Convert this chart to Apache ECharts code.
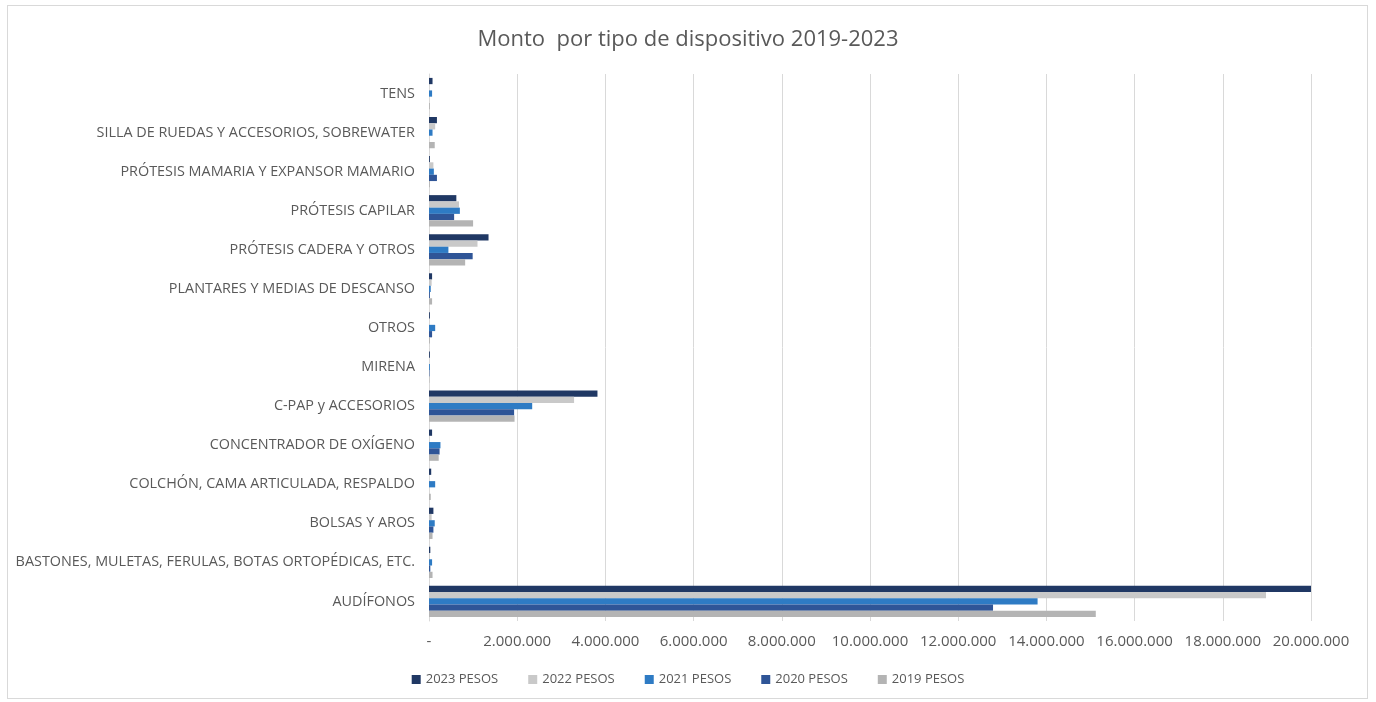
<!DOCTYPE html>
<html><head><meta charset="utf-8">
<script src="https://cdn.jsdelivr.net/npm/echarts@6/dist/echarts.min.js"></script>
<style>
html,body{margin:0;padding:0;background:#fff;}
#frame{position:absolute;left:7px;top:5px;width:1361px;height:694px;border:1px solid #d9d9d9;box-sizing:border-box;}
#c{position:absolute;left:0;top:0;width:1376px;height:702px;}
</style></head>
<body><div id="frame"></div><div id="c"></div>
<script>
const categories = ["AUDÍFONOS","BASTONES, MULETAS, FERULAS, BOTAS ORTOPÉDICAS, ETC.","BOLSAS Y AROS","COLCHÓN, CAMA ARTICULADA, RESPALDO","CONCENTRADOR DE OXÍGENO","C-PAP y ACCESORIOS","MIRENA","OTROS","PLANTARES Y MEDIAS DE DESCANSO","PRÓTESIS CADERA Y OTROS","PRÓTESIS CAPILAR","PRÓTESIS MAMARIA Y EXPANSOR MAMARIO","SILLA DE RUEDAS Y ACCESORIOS, SOBREWATER","TENS"];
const pesos2023 = [20000000, 30000, 100000, 50000, 70000, 3820000, 20000, 20000, 70000, 1350000, 620000, 20000, 180000, 80000];
const pesos2022 = [18980000, 20000, 60000, 0, 10000, 3290000, 0, 0, 60000, 1100000, 680000, 100000, 140000, 0];
const pesos2021 = [13800000, 70000, 130000, 140000, 260000, 2340000, 20000, 140000, 40000, 440000, 700000, 110000, 80000, 70000];
const pesos2020 = [12790000, 30000, 100000, 0, 240000, 1930000, 10000, 70000, 20000, 990000, 570000, 180000, 0, 0];
const pesos2019 = [15120000, 80000, 80000, 40000, 220000, 1940000, 10000, 20000, 70000, 820000, 1000000, 20000, 130000, 20000];
const seriesNames = ["2023 PESOS","2022 PESOS","2021 PESOS","2020 PESOS","2019 PESOS"];
const colors = ["#203864","#C9C9C9","#2E7BC4","#2F5597","#B4B4B4"];
const dataSets = [pesos2023, pesos2022, pesos2021, pesos2020, pesos2019];

const font = "Open Sans";
function fmt(v){ if(v===0) return "-"; return String(v).replace(/\B(?=(\d{3})+(?!\d))/g, "."); }

const chart = echarts.init(document.getElementById('c'));
const series = seriesNames.map((n,i)=>({
  name:n, type:'bar', data:dataSets[i], itemStyle:{color:colors[i]},
  barGap:'0%', barCategoryGap:'20%'
}));
chart.setOption({
  animation:false,
  textStyle:{fontFamily:font},
  title:{text:"Monto  por tipo de dispositivo 2019-2023", left:'center', top:24,
    textStyle:{fontFamily:font, fontSize:22, fontWeight:'normal', color:'#595959'}},
  legend:{data:seriesNames, bottom:11, left:'center', itemWidth:9, itemHeight:9, itemGap:30, icon:'rect',
    textStyle:{fontFamily:font, fontSize:13, color:'#595959'}},
  grid:{left:429, right:65, top:74, bottom:81, containLabel:false},
  xAxis:{type:'value', min:0, max:20000000, interval:2000000,
    axisLine:{show:false}, axisTick:{show:false},
    splitLine:{lineStyle:{color:'#d9d9d9'}},
    axisLabel:{formatter:fmt, color:'#595959', fontSize:15, margin:13, fontFamily:font}},
  yAxis:{type:'category', data:categories,
    axisLine:{lineStyle:{color:'#d9d9d9'}}, axisTick:{show:false},
    axisLabel:{color:'#595959', fontSize:14.4, margin:14, fontFamily:font}},
  series: series
});
</script></body></html>
